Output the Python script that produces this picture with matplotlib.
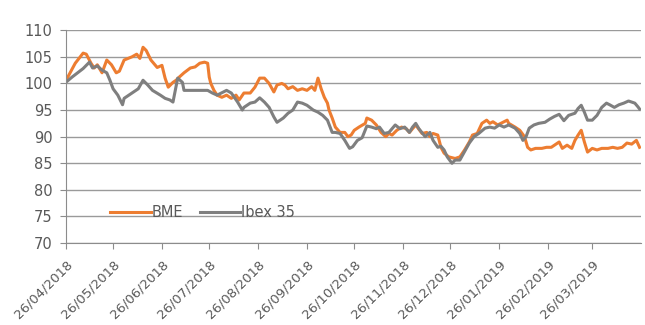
import pandas as pd
import matplotlib
matplotlib.use('Agg')
import matplotlib.pyplot as plt
import matplotlib.dates as mdates

# values, x as days since 26/04/2018
start = pd.Timestamp('2018-04-26')

bme_days = [0, 6, 11, 13, 16, 18, 20, 23, 26, 29, 32, 34, 37, 42, 45, 47, 49, 51, 54, 58, 61,
            63, 65, 68, 70, 72, 75, 79, 82, 85, 88, 90, 91, 92, 94, 96, 99, 102, 105, 108, 110,
            113, 117, 120, 123, 126, 129, 132, 134, 137, 139, 141, 144, 147, 150, 153, 156, 158,
            160, 162, 164, 166, 167, 169, 171, 174, 177, 179, 181, 183, 186, 190, 191, 194, 197,
            200, 203, 205, 207, 210, 213, 216, 218, 220, 222, 226, 229, 231, 233, 236, 238, 240,
            243, 247, 250, 253, 256, 258, 261, 264, 267, 269, 271, 274, 276, 280, 281, 285, 288,
            291, 293, 295, 298, 302, 305, 308, 311, 313, 315, 318, 321, 323, 325, 327, 329, 331,
            334, 337, 340, 344, 347, 350, 353, 356, 359, 362, 364]
bme = [100.5, 103.8, 105.7, 105.5, 103.8, 102.9, 103.5, 102.0, 104.4, 103.5, 102.0, 102.3, 104.4,
       105.0, 105.5, 104.7, 106.8, 106.2, 104.4, 103.0, 103.4, 101.0, 99.3, 100.2, 100.6, 101.2,
       102.0, 102.9, 103.1, 103.8, 104.0, 103.8, 101.2, 100.0, 98.7, 97.8, 97.4, 97.8, 97.2, 97.8,
       96.9, 98.2, 98.2, 99.3, 101.0, 101.0, 100.0, 98.4, 99.7, 100.0, 99.7, 99.0, 99.4, 98.7,
       99.0, 98.7, 99.4, 98.7, 101.0, 99.0, 97.4, 96.3, 95.0, 93.5, 91.8, 90.8, 90.8, 90.0, 90.3,
       91.2, 91.8, 92.5, 93.5, 93.1, 92.2, 90.8, 90.0, 90.6, 90.3, 91.2, 91.8, 91.5, 90.8, 91.5,
       92.2, 90.6, 90.8, 90.0, 90.6, 90.3, 88.0, 86.9, 86.2, 85.9, 86.2, 87.5, 89.0, 90.3, 90.6,
       92.5, 93.1, 92.5, 92.8, 92.2, 92.5, 93.1, 92.5, 91.8, 91.2, 90.0, 88.0, 87.5, 87.8, 87.8,
       88.0, 88.0, 88.6, 89.0, 87.8, 88.4, 87.8, 89.3, 90.3, 91.2, 89.0, 87.1, 87.8, 87.5, 87.8,
       87.8, 88.0, 87.8, 88.0, 88.8, 88.6, 89.3, 88.0]

ibex_days = [0, 4, 11, 15, 17, 20, 23, 26, 28, 30, 33, 36, 37, 42, 46, 49, 52, 55, 60, 63, 66,
             68, 71, 74, 75, 81, 87, 90, 93, 96, 102, 105, 109, 112, 113, 117, 120, 123, 126, 129,
             132, 134, 138, 141, 144, 147, 150, 153, 157, 160, 163, 166, 169, 171, 174, 177, 180,
             182, 185, 188, 191, 194, 197, 199, 202, 205, 209, 212, 215, 218, 220, 222, 224, 228,
             231, 233, 236, 238, 240, 242, 245, 247, 250, 253, 256, 259, 262, 266, 269, 272, 275,
             278, 281, 285, 288, 290, 292, 294, 297, 300, 304, 307, 310, 313, 316, 319, 323, 325,
             327, 329, 331, 334, 337, 340, 343, 345, 348, 351, 354, 357, 361, 363, 364]
ibex = [100.2, 101.2, 102.8, 104.0, 102.9, 103.3, 102.5, 102.0, 100.6, 99.0, 97.8, 96.0, 97.2,
        98.2, 99.0, 100.6, 99.7, 98.7, 97.8, 97.2, 96.9, 96.5, 101.0, 100.2, 98.7, 98.7, 98.7,
        98.7, 98.2, 97.8, 98.7, 98.2, 96.5, 95.0, 95.5, 96.3, 96.5, 97.3, 96.5, 95.5, 93.7, 92.7,
        93.5, 94.4, 95.0, 96.5, 96.3, 95.9, 95.0, 94.6, 94.0, 93.1, 90.8, 90.8, 90.6, 89.3, 87.8,
        88.1, 89.3, 89.8, 92.0, 91.8, 91.5, 91.8, 90.6, 90.8, 92.2, 91.5, 91.8, 90.8, 91.8, 92.5,
        91.5, 90.0, 90.8, 89.3, 88.0, 88.2, 87.5, 86.2, 85.0, 85.6, 85.6, 87.2, 88.8, 90.0, 90.6,
        91.6, 91.8, 91.6, 92.2, 91.8, 92.2, 91.6, 90.6, 89.3, 90.0, 91.6, 92.2, 92.5, 92.7, 93.3,
        93.8, 94.2, 93.0, 94.0, 94.4, 95.3, 95.9, 94.6, 93.1, 93.1, 94.0, 95.5, 96.3, 96.0, 95.5,
        96.0, 96.3, 96.7, 96.3, 95.6, 95.2]

tick_dates = pd.date_range('2018-04-26', periods=12, freq=pd.DateOffset(months=1))

bme_x = start + pd.to_timedelta(bme_days, unit='D')
ibex_x = start + pd.to_timedelta(ibex_days, unit='D')

fig = plt.figure(figsize=(6.45, 3.25), dpi=100)
ax = fig.add_axes([0.102, 0.252, 0.892, 0.655])

ax.plot(bme_x, bme, color='#ED7D31', lw=2.2, label='BME')
ax.plot(ibex_x, ibex, color='#7F7F7F', lw=2.2, label='Ibex 35')

ax.set_ylim(70, 110)
ax.set_yticks(range(70, 111, 5))
ax.set_xlim(start, start + pd.Timedelta(days=365))
ax.set_xticks(tick_dates)
ax.xaxis.set_major_formatter(mdates.DateFormatter('%d/%m/%Y'))

ax.grid(axis='y', color='#9a9a9a', lw=1)
ax.set_axisbelow(True)
for s in ['top', 'right']:
    ax.spines[s].set_visible(False)
for s in ['left', 'bottom']:
    ax.spines[s].set_color('#8c8c8c')
ax.tick_params(colors='#8c8c8c', labelcolor='#595959', labelsize=10.5, length=4.5)
ax.tick_params(axis='y', pad=5)
ax.tick_params(axis='x', pad=6, labelsize=9.5)
plt.setp(ax.get_xticklabels(), rotation=45, ha='right', rotation_mode='anchor')

ax.legend(loc='center left', bbox_to_anchor=(0.065, 0.145), ncol=2, frameon=False,
          fontsize=10.5, handlelength=2.8, handletextpad=0.05, columnspacing=1.1,
          labelcolor='#595959', borderpad=0)

plt.savefig('out.png', dpi=100)
